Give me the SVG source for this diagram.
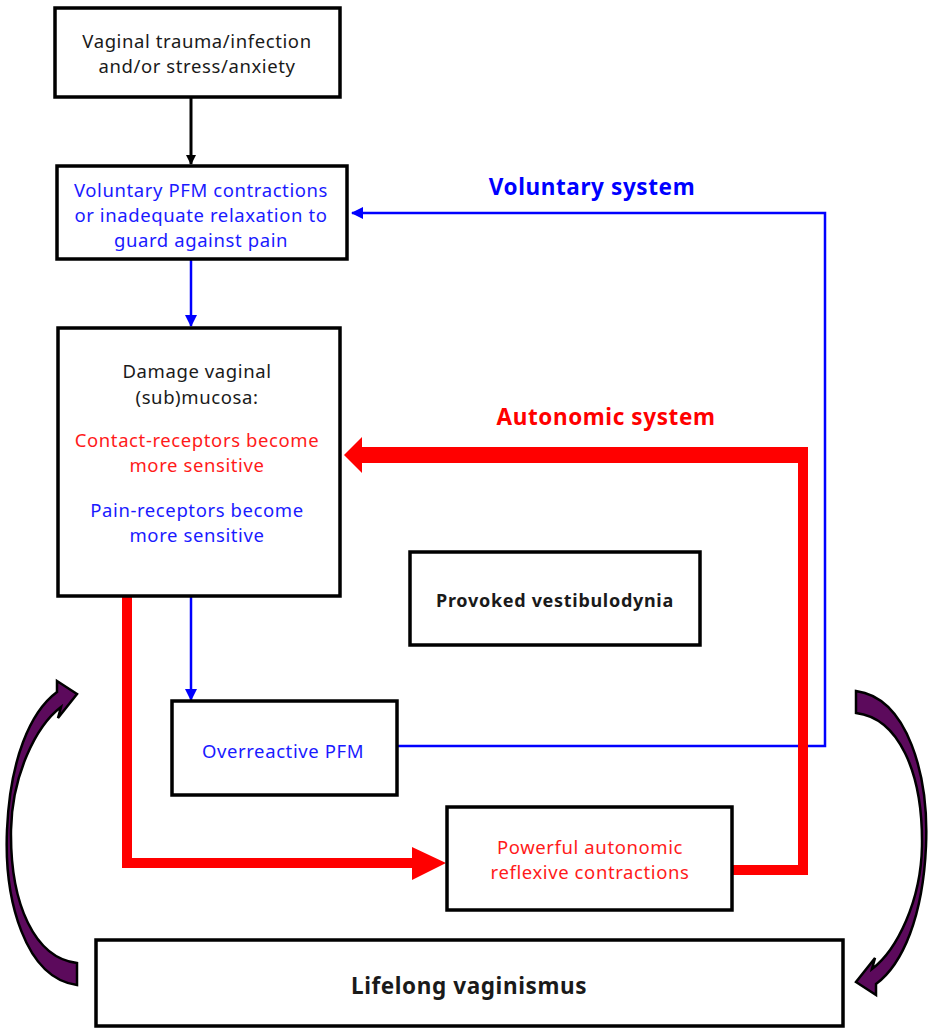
<svg xmlns="http://www.w3.org/2000/svg" width="928" height="1028" viewBox="0 0 928 1028">
<style>
.box{fill:#fff;stroke:#000;stroke-width:3.5}
text{font-family:"Noto Sans","Liberation Sans",sans-serif;font-size:18.5px;letter-spacing:0.6px;text-anchor:middle;dominant-baseline:central}
.k{fill:#1a1a1a}
.b{fill:#1a1aff}
.r{fill:#ff1a1a}
.bold{font-weight:bold}
.blue{stroke:#0000ff;stroke-width:2.5;fill:none}
.red{stroke:#ff0000;fill:none}
.curved{fill:#5c0a5c;stroke:#000;stroke-width:2.5;stroke-linejoin:miter}
</style>
<defs>
<marker id="ak" markerWidth="10" markerHeight="10" refX="9" refY="5" orient="auto" markerUnits="userSpaceOnUse"><path d="M0,0 L10,5 L0,10 Z" fill="#000"/></marker>
<marker id="ab" markerWidth="12" markerHeight="12" refX="11" refY="6" orient="auto" markerUnits="userSpaceOnUse"><path d="M0,0 L12,6 L0,12 Z" fill="#0000ff"/></marker>
</defs>

<g id="connectors">
<line x1="191" y1="97" x2="191" y2="164" stroke="#000" stroke-width="3" marker-end="url(#ak)"/>
<line x1="191" y1="260" x2="191" y2="326" class="blue" marker-end="url(#ab)"/>
<line x1="191" y1="597" x2="191" y2="700" class="blue" marker-end="url(#ab)"/>
<polyline points="398,746 825,746 825,213 352,213" class="blue" marker-end="url(#ab)"/>
<polyline points="733,870 803,870 803,455" class="red" stroke-width="10"/>
<line x1="808" y1="455" x2="362" y2="455" stroke="#ff0000" stroke-width="16"/>
<polygon points="362,437 344,455 362,473" fill="#ff0000"/>
<polyline points="127,597 127,863 414,863" class="red" stroke-width="10"/>
<polygon points="412,847 446,863 412,880" fill="#ff0000"/>
<path id="curve-left" class="curved" d="M77,985 C25,978 4,900 7,830 C10,760 30,712 57,692 L57,681 L77,694 L58,718 L61,707 C36,726 12,775 11,830 C10,905 35,958 77,963 Z"/>
<path id="curve-right" class="curved" transform="rotate(180 466.5 838)" d="M77,985 C25,978 4,900 7,830 C10,760 30,712 57,692 L57,681 L77,694 L58,718 L61,707 C36,726 12,775 11,830 C10,905 35,958 77,963 Z"/>
</g>

<g id="node-trauma">
<rect class="box" x="55" y="8" width="285" height="89"/>
<text class="k" x="197" y="40">Vaginal trauma/infection</text>
<text class="k" x="197" y="65">and/or stress/anxiety</text>
</g>

<g id="node-voluntary">
<rect class="box" x="57" y="166" width="290" height="93"/>
<text class="b" x="201" y="189">Voluntary PFM contractions</text>
<text class="b" x="201" y="214">or inadequate relaxation to</text>
<text class="b" x="201" y="239">guard against  pain</text>
</g>

<g id="node-damage">
<rect class="box" x="58" y="328" width="282" height="268"/>
<text class="k" x="197" y="370">Damage vaginal</text>
<text class="k" x="197" y="396">(sub)mucosa:</text>
<text class="r" x="197" y="439">Contact-receptors become</text>
<text class="r" x="197" y="464">more sensitive</text>
<text class="b" x="197" y="509">Pain-receptors become</text>
<text class="b" x="197" y="534">more sensitive</text>
</g>

<g id="node-overreactive">
<rect class="box" x="172" y="701" width="225" height="94"/>
<text class="b" x="283" y="750">Overreactive PFM</text>
</g>

<g id="node-vestibulodynia">
<rect class="box" x="410" y="552" width="290" height="93"/>
<text class="k bold" x="555" y="600" style="font-size:18px;letter-spacing:0.7px">Provoked vestibulodynia</text>
</g>

<g id="node-autonomic">
<rect class="box" x="447" y="807" width="285" height="103"/>
<text class="r" x="590" y="846">Powerful autonomic</text>
<text class="r" x="590" y="871">reflexive contractions</text>
</g>

<g id="node-lifelong">
<rect class="box" x="96" y="940" width="747" height="86"/>
<text class="k bold" x="469" y="985" style="font-size:22.5px">Lifelong vaginismus</text>
</g>

<g id="labels">
<text class="bold" x="592" y="186" style="font-size:22.5px;fill:#0000ff">Voluntary system</text>
<text class="bold" x="606" y="416" style="font-size:22.5px;fill:#ff0000">Autonomic system</text>
</g>
</svg>
